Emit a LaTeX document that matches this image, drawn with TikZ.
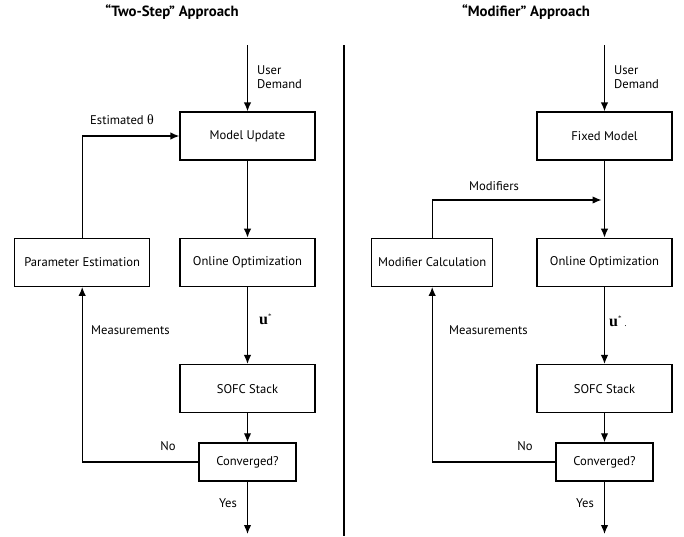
\documentclass[tikz,border=0pt]{standalone}
\usepackage{fontspec}
\setmainfont{PT Sans}
\newfontfamily\symfont{Liberation Serif}
\usepackage{tikz}
\usetikzlibrary{arrows.meta, positioning, calc}
\usepackage{amsmath}

\newcommand{\ustar}{{\symfont\bfseries u}\raisebox{6pt}{\symfont\scriptsize *}}

\begin{document}
\begin{tikzpicture}[
    x=1pt, y=1pt,
    font=\fontsize{12.6}{14.5}\selectfont,
    box/.style={draw, line width=1.3pt, minimum width=135pt, minimum height=48pt, inner sep=2pt},
    small/.style={box, minimum width=97pt, minimum height=38pt},
    arrow/.style={-{Latex[length=9pt,width=7.5pt]}, line width=1.3pt},
    line/.style={line width=1.3pt},
    lbl/.style={inner sep=1pt, align=left},
    title/.style={font=\fontsize{14.8}{17}\selectfont\bfseries}
]
    \useasboundingbox (0,0) rectangle (684,-536);

    % left: two-step
    \node (t1) [title] at (172,-12) {``Two-Step'' Approach};
    \node (mu) [box] at (247.5,-136) {Model Update};
    \node (oo1) [box, below=77pt of mu] {Online Optimization};
    \node (pe) [box, left=29pt of oo1] {Parameter Estimation};
    \node (sofc1) [box, below=77pt of oo1] {SOFC Stack};
    \node (cv1) [small, below=29pt of sofc1] {Converged?};
    \coordinate (ud1) at (247.5,-45);
    \coordinate (yes1) at (247.5,-534);

    \draw [arrow] (ud1) -- (mu);
    \draw [arrow] (mu) -- (oo1);
    \draw [arrow] (oo1) -- (sofc1);
    \draw [arrow] (sofc1) -- (cv1);
    \draw [arrow] (cv1) -- (yes1);
    \draw [arrow] (cv1.west) -| (pe.south);
    \draw [arrow] (pe.north) |- (mu.west);

    \node [lbl, anchor=west] at (256,-77) {User\\Demand};
    \node [lbl] at (122,-120) {Estimated {\symfont\fontsize{14}{16}\selectfont θ}};
    \node [lbl, anchor=west, font=\fontsize{16}{18}\selectfont] at (258,-319) {\ustar};
    \node [lbl, anchor=west] at (90,-330) {Measurements};
    \node [lbl] at (168,-446) {No};
    \node [lbl] at (228,-503) {Yes};

    % divider
    \coordinate (d1) at (344,-45);
    \coordinate (d2) at (344,-536);
    \draw [line] (d1) -- (d2);

    % right: modifier
    \node (t2) [title] at (526,-12) {``Modifier'' Approach};
    \node (fm) [box] at (604.5,-136) {Fixed Model};
    \node (oo2) [box, below=77pt of fm] {Online Optimization};
    \node (mc) [box, minimum width=121pt, left=43pt of oo2] {Modifier Calculation};
    \node (sofc2) [box, below=77pt of oo2] {SOFC Stack};
    \node (cv2) [small, below=29pt of sofc2] {Converged?};
    \coordinate (ud2) at (604.5,-45);
    \coordinate (yes2) at (604.5,-534);
    \coordinate (mj) at (604.5,-200);

    \draw [arrow] (ud2) -- (fm);
    \draw [arrow] (fm) -- (oo2);
    \draw [arrow] (oo2) -- (sofc2);
    \draw [arrow] (sofc2) -- (cv2);
    \draw [arrow] (cv2) -- (yes2);
    \draw [arrow] (cv2.west) -| (mc.south);
    \draw [arrow, shorten >=3pt] (mc.north) |- (mj);

    \node [lbl, anchor=west] at (613,-77) {User\\Demand};
    \node [lbl] at (494,-186) {Modifiers};
    \node [lbl, anchor=west, font=\fontsize{16}{18}\selectfont] at (608,-321) {\ustar\hspace{3pt}{\small.}};
    \node [lbl, anchor=west] at (448,-330) {Measurements};
    \node [lbl] at (525,-446) {No};
    \node [lbl] at (585,-503) {Yes};
\end{tikzpicture}
\end{document}
